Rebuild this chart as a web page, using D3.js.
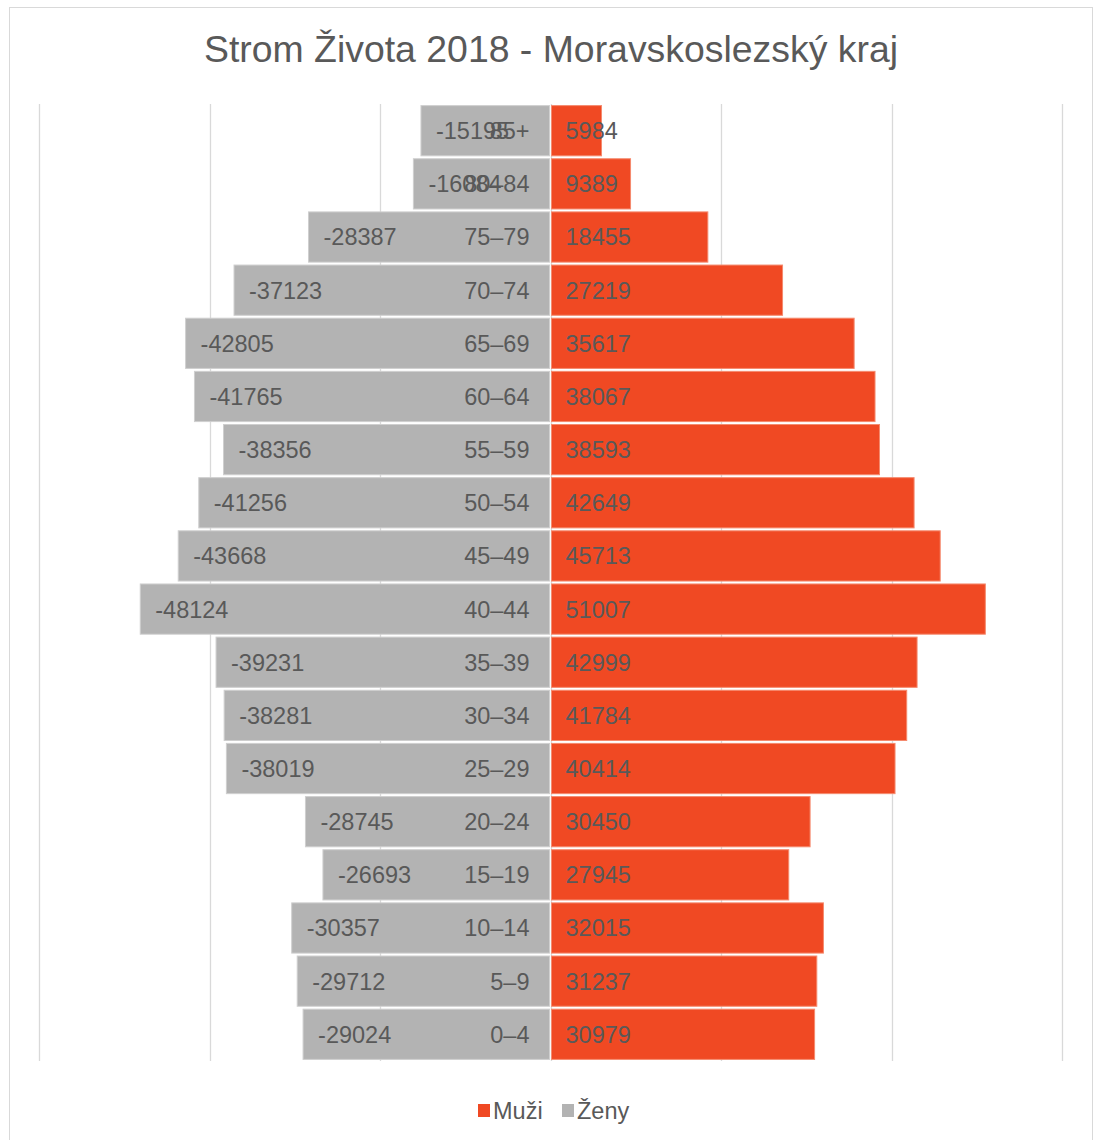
<!DOCTYPE html>
<html>
<head>
<meta charset="utf-8">
<script src="https://cdn.jsdelivr.net/npm/d3@7"></script>
<style>
  body { margin: 0; background: #fff; }
  text { font-family: "Liberation Sans", Arial, sans-serif; fill: #595959; }
</style>
</head>
<body>
<svg id="chart" width="1099" height="1140"></svg>
<script>
// age groups, top to bottom
const ageGroups = ["85+", "80–84", "75–79", "70–74", "65–69", "60–64", "55–59", "50–54",
  "45–49", "40–44", "35–39", "30–34", "25–29", "20–24", "15–19", "10–14", "5–9", "0–4"];
// women are stored negative so they grow to the left
const zeny = [-15195, -16084, -28387, -37123, -42805, -41765, -38356, -41256,
  -43668, -48124, -39231, -38281, -38019, -28745, -26693, -30357, -29712, -29024];
const muzi = [5984, 9389, 18455, 27219, 35617, 38067, 38593, 42649,
  45713, 51007, 42999, 41784, 40414, 30450, 27945, 32015, 31237, 30979];
const gridTicks = [-60000, -40000, -20000, 0, 20000, 40000, 60000];

const title = "Strom Života 2018 - Moravskoslezský kraj";
const colMuzi = "#f04923";
const colZeny = "#b3b3b3";
const labelSize = "23.5px";

const svg = d3.select("#chart");

// chart frame
svg.append("rect")
  .attr("x", 9.5).attr("y", 7.5)
  .attr("width", 1083).attr("height", 1140)
  .attr("fill", "#fff")
  .attr("stroke", "#d9d9d9");

const x = d3.scaleLinear().domain([-60000, 60000]).range([39, 1062]);
const y = d3.scaleBand().domain(ageGroups).range([104, 1061]).paddingInner(0.055).paddingOuter(0.03);

// gridlines
svg.append("g")
  .selectAll("line")
  .data(gridTicks)
  .join("line")
    .attr("x1", d => Math.round(x(d)) + 0.5)
    .attr("x2", d => Math.round(x(d)) + 0.5)
    .attr("y1", 104)
    .attr("y2", 1061)
    .attr("stroke", "#d9d9d9")
    .attr("stroke-width", 1.3);

const rows = ageGroups.map((g, i) => ({ g, z: zeny[i], m: muzi[i] }));

// women bars
svg.append("g")
  .selectAll("rect")
  .data(rows)
  .join("rect")
    .attr("x", d => x(d.z))
    .attr("y", d => y(d.g))
    .attr("width", d => x(0) - 1 - x(d.z))
    .attr("height", y.bandwidth())
    .attr("fill", colZeny)
    .attr("stroke", "#cfcfcf")
    .attr("stroke-width", 1);

// men bars
svg.append("g")
  .selectAll("rect")
  .data(rows)
  .join("rect")
    .attr("x", x(0) + 1)
    .attr("y", d => y(d.g))
    .attr("width", d => x(d.m) - x(0) - 1)
    .attr("height", y.bandwidth())
    .attr("fill", colMuzi)
    .attr("stroke", "#f58a6e")
    .attr("stroke-width", 1);

const midY = d => y(d.g) + y.bandwidth() / 2;

// category labels sit left of the zero line
svg.append("g")
  .selectAll("text")
  .data(rows)
  .join("text")
    .attr("x", x(0) - 21)
    .attr("y", midY)
    .attr("dy", "0.36em")
    .attr("text-anchor", "end")
    .style("font-size", labelSize)
    .text(d => d.g);

// value labels
svg.append("g")
  .selectAll("text")
  .data(rows)
  .join("text")
    .attr("x", d => x(d.z) + 15)
    .attr("y", midY)
    .attr("dy", "0.36em")
    .style("font-size", labelSize)
    .text(d => d.z);

svg.append("g")
  .selectAll("text")
  .data(rows)
  .join("text")
    .attr("x", x(0) + 15)
    .attr("y", midY)
    .attr("dy", "0.36em")
    .style("font-size", labelSize)
    .text(d => d.m);

// title
svg.append("text")
  .attr("x", 551)
  .attr("y", 62)
  .attr("text-anchor", "middle")
  .style("font-size", "37.4px")
  .text(title);

// legend
const legend = [["Muži", colMuzi, 478], ["Ženy", colZeny, 562]];
const lg = svg.append("g").selectAll("g").data(legend).join("g");
lg.append("rect")
  .attr("x", d => d[2]).attr("y", 1104)
  .attr("width", 12).attr("height", 13)
  .attr("fill", d => d[1]);
lg.append("text")
  .attr("x", d => d[2] + 15).attr("y", 1119)
  .style("font-size", labelSize)
  .text(d => d[0]);
</script>
</body>
</html>
